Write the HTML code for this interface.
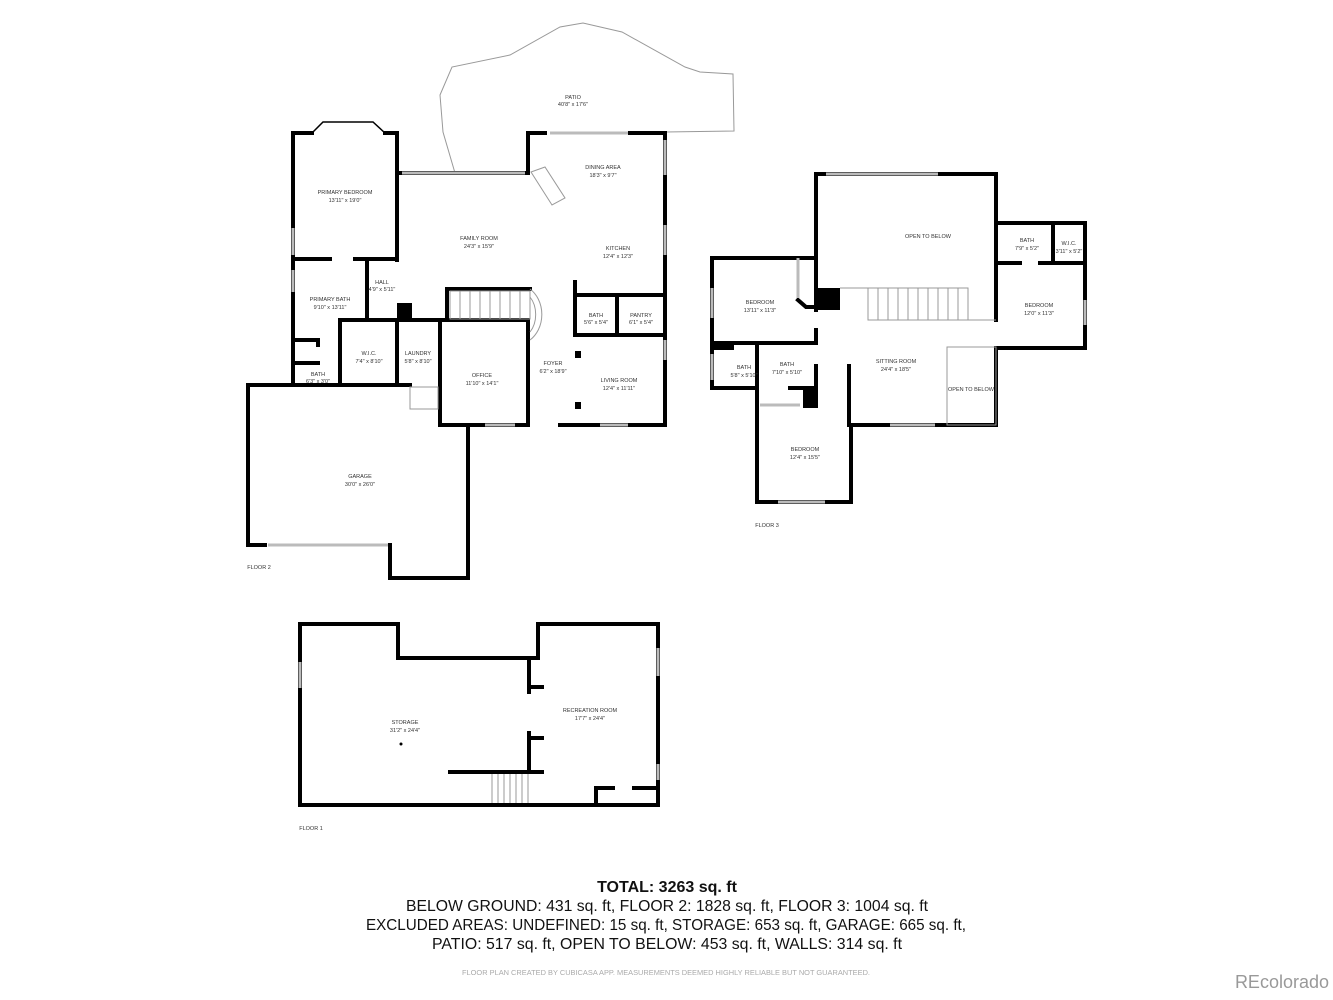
<!DOCTYPE html>
<html><head><style>
html,body{margin:0;padding:0;background:#fff;}
svg{display:block;}
.w{fill:none;stroke:#000;stroke-width:4;stroke-linecap:square;}
.t{stroke:#999;stroke-width:1;fill:none;}
.win{stroke:#bbb;stroke-width:3;fill:none;}
.l{font-family:"Liberation Sans",sans-serif;font-size:5.5px;fill:#333;text-anchor:middle;}
.b{font-family:"Liberation Sans",sans-serif;font-size:16px;fill:#111;text-anchor:middle;}
</style></head><body>
<svg width="1333" height="1000" viewBox="0 0 1333 1000" xmlns="http://www.w3.org/2000/svg">
<polyline class="t" points="455,173 443,132 440,95 452,67 510,55 560,27 583,23 622,32 685,67 700,72 733,74 734,131 665,132"/>
<text class="l" x="573" y="99">PATIO</text><text class="l" x="573" y="106">40'8" x 17'6"</text>

<g class="w">
<polyline points="312,133 293,133 293,385"/>
<polyline points="385,133 397,133 397,173"/>
<line x1="397" y1="173" x2="397" y2="260"/>
<polyline points="312,133 323,122 373,122 385,133" style="stroke-width:1.5"/>
<polyline points="397,173 527,173"/>
<polyline points="528,173 528,133 545,133"/>
<polyline points="630,133 665,133 665,425"/>
<line x1="293" y1="259" x2="330" y2="259"/>
<line x1="355" y1="259" x2="395" y2="259"/>
<line x1="367" y1="259" x2="367" y2="320"/>
<line x1="340" y1="320" x2="440" y2="320"/>
<line x1="340" y1="320" x2="340" y2="385"/>
<line x1="397" y1="320" x2="397" y2="385"/>
<polyline points="295,340 318,340 318,345"/>
<polyline points="295,363 318,363"/>
<line x1="248" y1="385" x2="410" y2="385"/>
<line x1="248" y1="385" x2="248" y2="545"/>
<line x1="248" y1="545" x2="265" y2="545"/>
<polyline points="390,545 390,578 468,578 468,425"/>
<polyline points="440,320 528,320 528,425 440,425 440,320"/>
<line x1="440" y1="425" x2="485" y2="425"/>
<line x1="560" y1="425" x2="665" y2="425"/>
<line x1="575" y1="282" x2="575" y2="335"/>
<line x1="575" y1="295" x2="665" y2="295"/>
<line x1="617" y1="295" x2="617" y2="335"/>
<line x1="575" y1="335" x2="665" y2="335"/>
<line x1="447" y1="289" x2="530" y2="289"/>
<line x1="447" y1="289" x2="447" y2="320"/>
</g>
<rect x="397" y="303" width="15" height="17"/>
<rect x="575" y="351" width="6" height="7"/><rect x="575" y="402" width="6" height="7"/>
<g class="win">
<line x1="402" y1="173" x2="525" y2="173"/><line x1="550" y1="133" x2="628" y2="133"/>
<line x1="665" y1="140" x2="665" y2="175"/><line x1="665" y1="225" x2="665" y2="255"/>
<line x1="665" y1="340" x2="665" y2="360"/><line x1="293" y1="228" x2="293" y2="255"/>
<line x1="293" y1="270" x2="293" y2="292"/><line x1="485" y1="425" x2="515" y2="425"/>
<line x1="600" y1="425" x2="628" y2="425"/><line x1="268" y1="545" x2="388" y2="545"/>
</g>
<g class="t">
<rect x="450" y="291" width="80" height="28"/>
<path d="M530,289 A25,30 0 0 1 530,340"/><path d="M530,297 A18,24 0 0 1 530,332"/>
<path d="M531,172 L545,167 L565,198 L552,205 Z"/>
<rect x="410" y="387" width="28" height="22"/>
<line x1="460" y1="291" x2="460" y2="319"/><line x1="470" y1="291" x2="470" y2="319"/><line x1="480" y1="291" x2="480" y2="319"/><line x1="490" y1="291" x2="490" y2="319"/><line x1="500" y1="291" x2="500" y2="319"/><line x1="510" y1="291" x2="510" y2="319"/><line x1="520" y1="291" x2="520" y2="319"/>
</g>
<text class="l" x="345" y="194">PRIMARY BEDROOM</text><text class="l" x="345" y="202">13'11" x 19'0"</text>
<text class="l" x="479" y="240">FAMILY ROOM</text><text class="l" x="479" y="248">24'3" x 15'9"</text>
<text class="l" x="603" y="169">DINING AREA</text><text class="l" x="603" y="177">18'3" x 9'7"</text>
<text class="l" x="618" y="250">KITCHEN</text><text class="l" x="618" y="258">12'4" x 12'3"</text>
<text class="l" x="382" y="284">HALL</text><text class="l" x="382" y="291">4'9" x 5'11"</text>
<text class="l" x="330" y="301">PRIMARY BATH</text><text class="l" x="330" y="309">9'10" x 13'11"</text>
<text class="l" x="596" y="317">BATH</text><text class="l" x="596" y="324">5'6" x 5'4"</text>
<text class="l" x="641" y="317">PANTRY</text><text class="l" x="641" y="324">6'1" x 5'4"</text>
<text class="l" x="369" y="355">W.I.C.</text><text class="l" x="369" y="363">7'4" x 8'10"</text>
<text class="l" x="418" y="355">LAUNDRY</text><text class="l" x="418" y="363">5'8" x 8'10"</text>
<text class="l" x="553" y="365">FOYER</text><text class="l" x="553" y="373">6'2" x 18'9"</text>
<text class="l" x="482" y="377">OFFICE</text><text class="l" x="482" y="385">11'10" x 14'1"</text>
<text class="l" x="619" y="382">LIVING ROOM</text><text class="l" x="619" y="390">12'4" x 11'11"</text>
<text class="l" x="318" y="376">BATH</text><text class="l" x="318" y="383">6'3" x 3'0"</text>
<text class="l" x="360" y="478">GARAGE</text><text class="l" x="360" y="486">30'0" x 26'0"</text>
<text class="l" x="259" y="569">FLOOR 2</text>

<g class="w">
<polyline points="816,258 816,174 996,174 996,223 1085,223 1085,348 996,348 996,425 851,425 851,502 757,502 757,388"/>
<polyline points="816,258 712,258 712,388 757,388"/>
<line x1="712" y1="343" x2="816" y2="343"/>
<line x1="757" y1="343" x2="757" y2="388"/>
<line x1="816" y1="258" x2="816" y2="310"/>
<line x1="816" y1="330" x2="816" y2="343"/>
<line x1="816" y1="366" x2="816" y2="388"/>
<line x1="816" y1="388" x2="790" y2="388"/>
<line x1="849" y1="366" x2="849" y2="425"/>
<line x1="996" y1="263" x2="1020" y2="263"/><line x1="1040" y1="263" x2="1085" y2="263"/>
<line x1="1053" y1="223" x2="1053" y2="263"/>
<line x1="996" y1="223" x2="996" y2="320"/>
<polyline points="798,300 806,307 818,307"/>
</g>
<rect x="816" y="288" width="24" height="22"/><rect x="803" y="388" width="15" height="20"/><rect x="712" y="343" width="22" height="7"/>
<g class="t">
<rect x="868" y="288" width="100" height="32"/>
<line x1="840" y1="288" x2="868" y2="288"/><line x1="968" y1="320" x2="996" y2="320"/>
<rect x="947" y="347" width="49" height="78"/>
<line x1="878" y1="288" x2="878" y2="320"/><line x1="888" y1="288" x2="888" y2="320"/><line x1="898" y1="288" x2="898" y2="320"/><line x1="908" y1="288" x2="908" y2="320"/><line x1="918" y1="288" x2="918" y2="320"/><line x1="928" y1="288" x2="928" y2="320"/><line x1="938" y1="288" x2="938" y2="320"/><line x1="948" y1="288" x2="948" y2="320"/><line x1="958" y1="288" x2="958" y2="320"/>
</g>
<g class="win">
<line x1="826" y1="174" x2="938" y2="174"/><line x1="712" y1="288" x2="712" y2="318"/>
<line x1="712" y1="354" x2="712" y2="380"/><line x1="1085" y1="300" x2="1085" y2="325"/>
<line x1="890" y1="425" x2="935" y2="425"/><line x1="778" y1="502" x2="825" y2="502"/>
<line x1="798" y1="258" x2="798" y2="298"/><line x1="760" y1="405" x2="800" y2="405"/>
</g>
<text class="l" x="928" y="238">OPEN TO BELOW</text>
<text class="l" x="1027" y="242">BATH</text><text class="l" x="1027" y="250">7'9" x 5'2"</text>
<text class="l" x="1069" y="245">W.I.C.</text><text class="l" x="1069" y="253">3'11" x 5'2"</text>
<text class="l" x="760" y="304">BEDROOM</text><text class="l" x="760" y="312">13'11" x 11'3"</text>
<text class="l" x="1039" y="307">BEDROOM</text><text class="l" x="1039" y="315">12'0" x 11'3"</text>
<text class="l" x="744" y="369">BATH</text><text class="l" x="744" y="377">5'8" x 5'10"</text>
<text class="l" x="787" y="366">BATH</text><text class="l" x="787" y="374">7'10" x 5'10"</text>
<text class="l" x="896" y="363">SITTING ROOM</text><text class="l" x="896" y="371">24'4" x 18'5"</text>
<text class="l" x="971" y="391">OPEN TO BELOW</text>
<text class="l" x="805" y="451">BEDROOM</text><text class="l" x="805" y="459">12'4" x 15'5"</text>
<text class="l" x="767" y="527">FLOOR 3</text>

<g class="w">
<polyline points="300,624 398,624 398,658 538,658 538,624 658,624 658,805 300,805 300,624"/>
<line x1="529" y1="658" x2="529" y2="692"/><line x1="529" y1="733" x2="529" y2="772"/>
<line x1="529" y1="687" x2="542" y2="687"/><line x1="529" y1="738" x2="542" y2="738"/>
<line x1="450" y1="772" x2="542" y2="772"/>
<polyline points="596,805 596,788 613,788"/><line x1="634" y1="788" x2="658" y2="788"/>
</g>
<g class="t">
<line x1="492" y1="774" x2="492" y2="803"/><line x1="498" y1="774" x2="498" y2="803"/><line x1="504" y1="774" x2="504" y2="803"/><line x1="510" y1="774" x2="510" y2="803"/><line x1="516" y1="774" x2="516" y2="803"/><line x1="522" y1="774" x2="522" y2="803"/><line x1="528" y1="774" x2="528" y2="803"/>
</g>
<g class="win"><line x1="300" y1="662" x2="300" y2="688"/><line x1="658" y1="648" x2="658" y2="676"/><line x1="658" y1="764" x2="658" y2="780"/></g>
<circle cx="401" cy="744" r="1.5"/>
<text class="l" x="405" y="724">STORAGE</text><text class="l" x="405" y="732">31'2" x 24'4"</text>
<text class="l" x="590" y="712">RECREATION ROOM</text><text class="l" x="590" y="720">17'7" x 24'4"</text>
<text class="l" x="311" y="830">FLOOR 1</text>

<text class="b" x="667" y="892" style="font-weight:bold">TOTAL: 3263 sq. ft</text>
<text class="b" x="667" y="911" textLength="522" lengthAdjust="spacingAndGlyphs">BELOW GROUND: 431 sq. ft, FLOOR 2: 1828 sq. ft, FLOOR 3: 1004 sq. ft</text>
<text class="b" x="666" y="930" textLength="600" lengthAdjust="spacingAndGlyphs">EXCLUDED AREAS: UNDEFINED: 15 sq. ft, STORAGE: 653 sq. ft, GARAGE: 665 sq. ft,</text>
<text class="b" x="667" y="949" textLength="470" lengthAdjust="spacingAndGlyphs">PATIO: 517 sq. ft, OPEN TO BELOW: 453 sq. ft, WALLS: 314 sq. ft</text>
<text x="666" y="975" text-anchor="middle" font-family="Liberation Sans, sans-serif" font-size="7" fill="#aaa" textLength="408" lengthAdjust="spacingAndGlyphs">FLOOR PLAN CREATED BY CUBICASA APP. MEASUREMENTS DEEMED HIGHLY RELIABLE BUT NOT GUARANTEED.</text>
<text x="1329" y="988" text-anchor="end" font-family="Liberation Sans, sans-serif" font-size="18" fill="#999">REcolorado</text>
</svg>
</body></html>
